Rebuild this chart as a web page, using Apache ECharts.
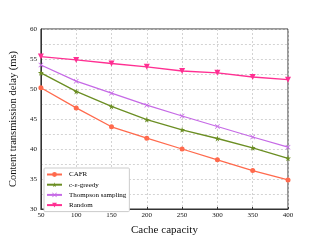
<!DOCTYPE html>
<html><head><meta charset="utf-8">
<script src="https://cdn.jsdelivr.net/npm/echarts@6/dist/echarts.min.js"></script>
<style>html,body{margin:0;padding:0;background:#fff}#c{width:321px;height:241px}</style>
</head><body><div id="c"></div>
<script>
const capacity = [50, 100, 150, 200, 250, 300, 350, 400];
const cafr = [50.2, 46.85, 43.7, 41.8, 40.0, 38.2, 36.4, 34.85];
const greedy = [52.7, 49.6, 47.1, 44.9, 43.2, 41.75, 40.2, 38.45];
const thompson = [54.0, 51.3, 49.3, 47.3, 45.5, 43.75, 42.0, 40.3];
const random = [55.4, 54.85, 54.25, 53.7, 53.0, 52.7, 52.0, 51.55];
const seriesNames = ['CAFR', 'c-ε-greedy', 'Thompson sampling', 'Random'];

const F = 'Liberation Serif';
const starPath = 'path://M50,0 L61,35 L98,35 L68,57 L79,91 L50,70 L21,91 L32,57 L2,35 L39,35 Z';
const xPath = 'path://M10,0 L50,40 L90,0 L100,10 L60,50 L100,90 L90,100 L50,60 L10,100 L0,90 L40,50 L0,10 Z';
function pairs(v){ return capacity.map((c,i)=>[c, v[i]]); }
const defs = [
  {v: cafr, color: '#ff6a4d', symbol: 'circle', size: 5, rot: 0},
  {v: greedy, color: '#6b8e23', symbol: starPath, size: 6, rot: 0},
  {v: thompson, color: '#c66ae6', symbol: xPath, size: 5, rot: 0},
  {v: random, color: '#ff2f92', symbol: 'triangle', size: 6, rot: 180}
];
const chart = echarts.init(document.getElementById('c'));
chart.setOption({
  animation: false,
  grid: {left: 40, right: 33, top: 29, bottom: 27, show: true, borderColor: '#333', borderWidth: 1},
  legend: {
    orient: 'vertical', left: 44, top: 168, itemWidth: 15, itemHeight: 6, itemGap: 3.2,
    backgroundColor: '#fff', borderColor: '#ccc', borderWidth: 1, borderRadius: 1,
    padding: [3, 3, 3, 2],
    textStyle: {fontFamily: F, fontSize: 7, color: '#000', padding: [0,0,0,2]},
    data: seriesNames
  },
  xAxis: {
    type: 'value', min: 50, max: 400, interval: 50,
    name: 'Cache capacity', nameLocation: 'middle', nameGap: 16,
    nameTextStyle: {fontFamily: F, fontSize: 11, color: '#111'},
    axisLine: {show: true, lineStyle: {color: '#333'}},
    axisTick: {show: true, inside: true, length: 2, lineStyle: {color: '#333'}},
    axisLabel: {fontFamily: F, fontSize: 7, color: '#111', margin: 3},
    splitLine: {show: true, lineStyle: {color: '#c8c8c8', type: [2, 2], width: 0.8}}
  },
  yAxis: {
    type: 'value', min: 30, max: 60, interval: 2.5,
    name: 'Content transmission delay (ms)', nameLocation: 'middle', nameGap: 21,
    nameTextStyle: {fontFamily: F, fontSize: 10.5, color: '#111'},
    axisLine: {show: true, lineStyle: {color: '#333'}},
    axisTick: {show: false},
    axisLabel: {fontFamily: F, fontSize: 7, color: '#111', margin: 4,
      formatter: v => (v % 5 === 0 ? String(v) : '')},
    splitLine: {show: true, lineStyle: {color: '#c8c8c8', type: [2, 2], width: 0.8}}
  },
  series: defs.map((d, i) => ({
    name: seriesNames[i], type: 'line', data: pairs(d.v),
    symbol: d.symbol, symbolSize: d.size, symbolRotate: d.rot, showAllSymbol: true,
    lineStyle: {color: d.color, width: 1.3},
    itemStyle: {color: d.color, borderWidth: 0},
    emphasis: {disabled: true}
  }))
});
</script></body></html>
